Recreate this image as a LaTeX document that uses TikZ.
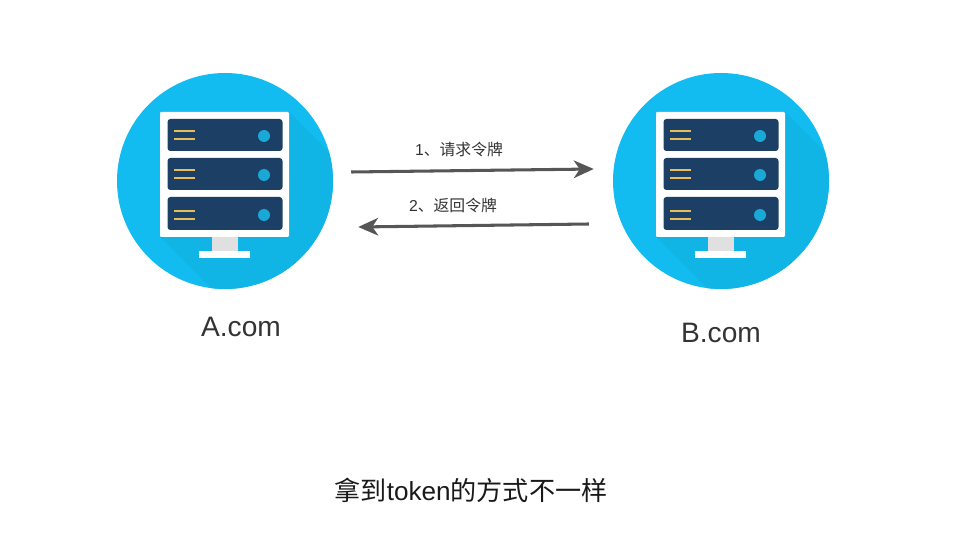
\documentclass[tikz,border=0pt]{standalone}
\usepackage{fontspec}
\setmainfont{Liberation Sans}
\newfontfamily\cjk{Noto Sans CJK SC}
\usetikzlibrary{arrows.meta}
\definecolor{sky}{HTML}{12BCF0}
\definecolor{skyd}{HTML}{10B5E5}
\definecolor{dot}{HTML}{1AA8D6}
\definecolor{navy}{HTML}{1C3F66}
\definecolor{gold}{HTML}{E8BE5A}
\definecolor{arr}{HTML}{565656}
\tikzset{c/.style={circle,fill=sky,minimum size=6.48cm,inner sep=0pt},
 lb/.style={font=\fontsize{13.5}{15}\selectfont,text=black!80,inner sep=0pt},
 nm/.style={font=\fontsize{24}{28}\selectfont,text=black!80,inner sep=0pt},
 ttl/.style={font=\fontsize{22.3}{26}\selectfont,text=black!90,inner sep=0pt},
 ar/.style={draw=arr,line width=2.6pt,-{Stealth[length=17pt,width=15pt,inset=5pt]}},
 srv/.pic={
  \begin{scope}
  \clip (0,0) circle (108);
  \fill[skyd] (64,-69)--(200,67)--(200,200)--(79,200)--(-65,56)--cycle;
  \end{scope}
  \fill[white,rounded corners=1pt] (-65,-69) rectangle (64,56);
  \fill[black!12] (-13,56) rectangle (13,71);
  \fill[white] (-26,70) rectangle (25,77);
  \foreach \y/\h/\m/\g in {-62/-30/-45/-46,-23/9/-6/-7,16/49/34/34}{
   \fill[navy,rounded corners=2.5pt] (-57.5,\y) rectangle (57.5,\h);
   \fill[dot] (39,\m) circle (6);
   \fill[gold] (-51,\g-5) rectangle (-30,\g-3);
   \fill[gold] (-51,\g+3) rectangle (-30,\g+5);
  }
 }}

\begin{document}
\begin{tikzpicture}[x=0.03cm,y=-0.03cm]
\useasboundingbox (0,0) rectangle (954,540);
\node[c](a) at (225,181){};
\node[c](b) at (721,181){};
\pic at (a) {srv};
\pic at (b) {srv};
\node[nm](an) at (241,327){A.com};
\node[nm](bn) at (721,333){B.com};
\draw[ar]([shift={(18,-9)}]a.east)--([shift={(-19,-12)}]b.west);
\draw[ar]([shift={(-24,43)}]b.west)--([shift={(25,46)}]a.east);
\node[lb](l1) at (459,149){1{\cjk 、请求令牌}};
\node[lb](l2) at (453,205){2{\cjk 、返回令牌}};
\node[ttl](t) at (471,490){{\cjk 拿到}token{\cjk 的方式不一样}};
\end{tikzpicture}
\end{document}
